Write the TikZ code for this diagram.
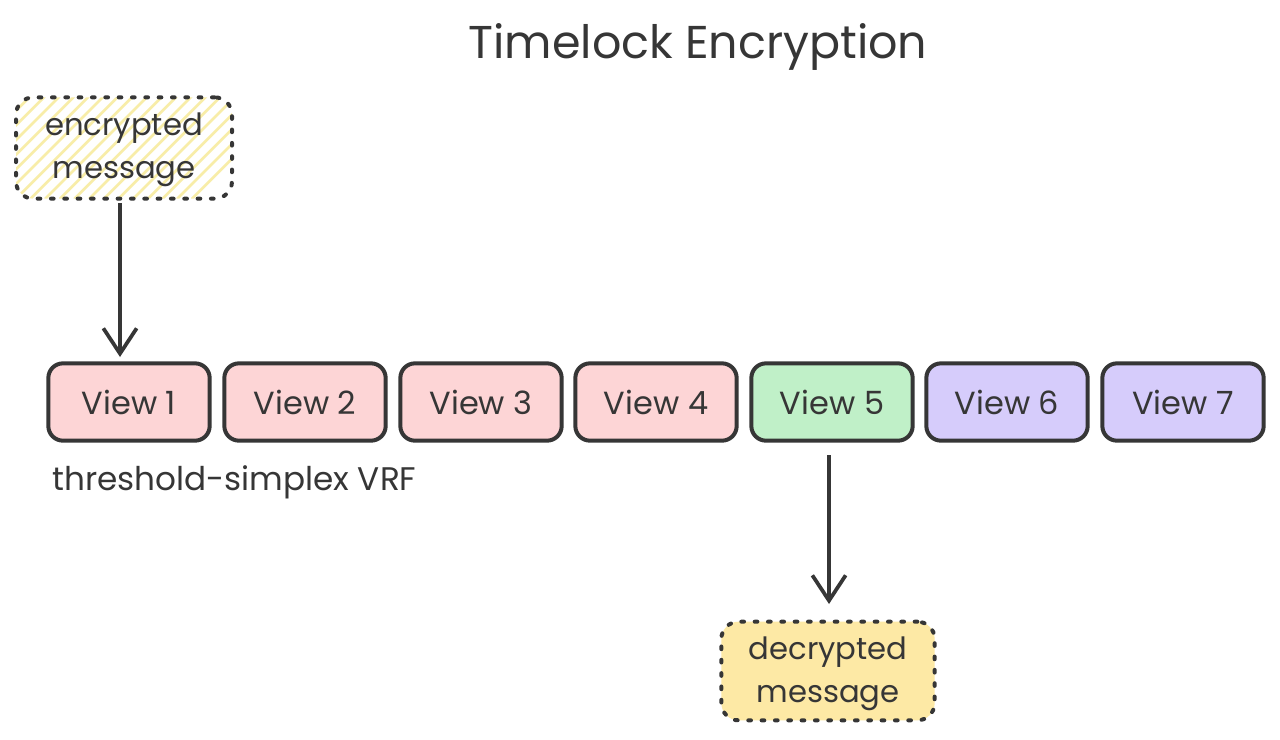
\documentclass[tikz,border=0pt]{standalone}
\usepackage{fontspec}
\setmainfont{Poppins}
\usetikzlibrary{arrows.meta}
\definecolor{ink}{HTML}{363636}
\definecolor{pinkf}{HTML}{FDD5D6}
\definecolor{greenf}{HTML}{C0F0C8}
\definecolor{purplef}{HTML}{D6CCFB}
\definecolor{yellowf}{HTML}{FDE9A5}
\definecolor{hatch}{HTML}{F8EDA8}
\tikzset{
  view/.style={draw=ink, line width=3pt, rounded corners=11pt, minimum width=121pt, minimum height=58pt, inner sep=0pt, text=ink, font=\fontsize{24}{28}\selectfont},
  msg/.style={draw=ink, line width=3pt, rounded corners=13pt, dash pattern=on 2pt off 8pt, line cap=round, inner sep=0pt, text=ink, align=center, font=\fontsize{23}{32}\selectfont},
  hatched/.style={path picture={
      \foreach \k in {-12,...,12}{
        \draw[hatch, line width=2pt, solid]
          ([xshift=\k*11pt]path picture bounding box.south west) -- ++(80pt,80pt);
      }}},
  arr/.style={draw=ink, line width=2.8pt, -{Straight Barb[length=19pt,width=25pt,line width=2.8pt]}},
  lbl/.style={text=ink, inner sep=0pt}
}
\begin{document}
\begin{tikzpicture}[x=0.75pt,y=-0.75pt]
\useasboundingbox[fill=white] (0,0) rectangle (1280,739);
\node[lbl, font=\fontsize{34.5}{40}\selectfont] (title) at (698,47) {Timelock Encryption};
\node[view, fill=pinkf] (v1) at (129,402) {View 1};
\node[view, fill=pinkf] (v2) at (305,402) {View 2};
\node[view, fill=pinkf] (v3) at (481,402) {View 3};
\node[view, fill=pinkf] (v4) at (656,402) {View 4};
\node[view, fill=greenf] (v5) at (832,402) {View 5};
\node[view, fill=purplef] (v6) at (1007,402) {View 6};
\node[view, fill=purplef] (v7) at (1183,402) {View 7};
\node[lbl, anchor=west, font=\fontsize{24.5}{28}\selectfont] (vrf) at (52,482) {threshold-simplex VRF};
\node[msg, hatched, minimum width=162pt, minimum height=76pt] (enc) at (124,148) {};
\node[lbl, align=center, font=\fontsize{23}{32}\selectfont] (enct) at (124,150) {encrypted\\message};
\node[msg, fill=yellowf, minimum width=160pt, minimum height=74pt] (dec) at (828,671) {};
\node[lbl, align=center, font=\fontsize{23}{32}\selectfont] (dect) at (828,674) {decrypted\\message};
\coordinate (a1s) at (120,203);
\coordinate (a1e) at (120,357);
\draw[arr] (a1s) -- (a1e);
\coordinate (a2s) at (829,455);
\coordinate (a2e) at (829,604);
\draw[arr] (a2s) -- (a2e);
\end{tikzpicture}
\end{document}
